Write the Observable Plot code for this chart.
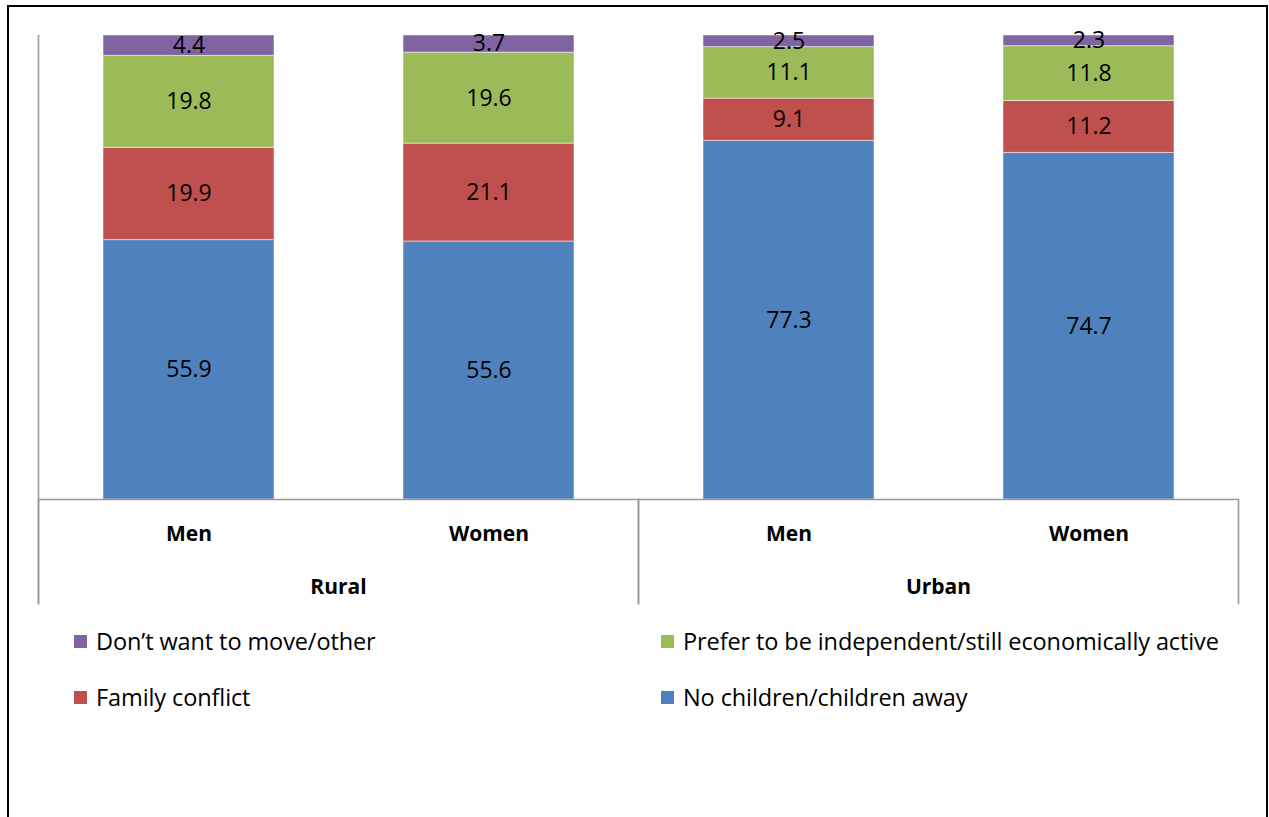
<!DOCTYPE html>
<html>
<head>
<meta charset="utf-8">
<script src="https://cdn.jsdelivr.net/npm/d3@7"></script>
<script src="https://cdn.jsdelivr.net/npm/@observablehq/plot@0.6"></script>
<style>
  html, body { margin: 0; padding: 0; background: #fff; overflow: hidden; }
  #wrap { position: relative; width: 1269px; height: 817px; font-family: "Open Sans", Lato, sans-serif; }
  #border { position: absolute; left: 7px; top: 5px; width: 1257px; height: 900px; border: 2px solid #000; box-sizing: content-box; }
  #chart { position: absolute; left: 0; top: 0; }
  #legend { position: absolute; left: 74px; top: 628px; display: grid; grid-template-columns: 587px 587px; row-gap: 30px; }
  .item { display: flex; align-items: center; font-size: 23.5px; color: #000; height: 26px; letter-spacing: -0.1px; }
  .sw { width: 13px; height: 13px; margin-right: 9px; flex: none; }
</style>
</head>
<body>
<div id="wrap">
  <div id="border"></div>
  <div id="chart"></div>
  <div id="legend"></div>
</div>
<script>
// ---- data ----
const areas = ["Rural", "Rural", "Urban", "Urban"];
const sexes = ["Men", "Women", "Men", "Women"];
const seriesNames = [
  "No children/children away",
  "Family conflict",
  "Prefer to be independent/still economically active",
  "Don’t want to move/other"
];
const seriesColors = ["#4F81BD", "#C0504D", "#9BBB59", "#8064A2"];
const noChildren = [55.9, 55.6, 77.3, 74.7];
const familyConflict = [19.9, 21.1, 9.1, 11.2];
const preferIndependent = [19.8, 19.6, 11.1, 11.8];
const dontWantToMove = [4.4, 3.7, 2.5, 2.3];
const legendOrder = [3, 2, 1, 0];

const seriesValues = [noChildren, familyConflict, preferIndependent, dontWantToMove];
const rows = [];
seriesNames.forEach((s, si) => {
  areas.forEach((a, i) => {
    rows.push({area: a, sex: sexes[i], series: s, value: seriesValues[si][i]});
  });
});

const font = "'Open Sans', Lato, sans-serif";
const chart = Plot.plot({
  width: 1269,
  height: 620,
  marginLeft: 38,
  marginRight: 31,
  marginTop: 35,
  marginBottom: 121,
  style: {fontFamily: font, background: "transparent", overflow: "visible"},
  fx: {domain: ["Rural", "Urban"], padding: 0, label: null},
  x: {domain: ["Men", "Women"], paddingInner: 0.43, paddingOuter: 0.215, label: null},
  y: {domain: [0, 100], axis: null},
  color: {domain: seriesNames, range: seriesColors},
  marks: [
    Plot.barY(rows, Plot.stackY({
      fx: "area", x: "sex", y: "value", fill: "series", z: "series", order: seriesNames,
      stroke: "#ffffff", strokeOpacity: 0.5, strokeWidth: 1
    })),
    Plot.text(rows, Plot.stackY({
      fx: "area", x: "sex", y: "value", z: "series", order: seriesNames,
      text: (d) => d.value.toFixed(1), fontSize: 23, fill: "#000"
    })),
    Plot.ruleY([0], {stroke: "#999", strokeWidth: 1.6}),
    Plot.frame({anchor: "left", facetAnchor: "left", stroke: "#999", strokeWidth: 1.6, insetBottom: -104}),
    Plot.frame({anchor: "left", stroke: "#999", strokeWidth: 1.6, insetTop: 464, insetBottom: -104}),
    Plot.frame({anchor: "right", stroke: "#999", strokeWidth: 1.6, insetTop: 464, insetBottom: -104}),
    Plot.axisX({anchor: "bottom", tickSize: 0, tickPadding: 27, fontSize: 21, fontWeight: "bold", fill: "#000", label: null}),
    Plot.axisFx({anchor: "bottom", tickSize: 0, tickPadding: 80, fontSize: 21, fontWeight: "bold", fill: "#000", label: null})
  ]
});
document.getElementById("chart").appendChild(chart);

const legend = document.getElementById("legend");
legendOrder.forEach((si) => {
  const item = document.createElement("div");
  item.className = "item";
  const sw = document.createElement("span");
  sw.className = "sw";
  sw.style.background = seriesColors[si];
  const t = document.createElement("span");
  t.textContent = seriesNames[si];
  item.appendChild(sw);
  item.appendChild(t);
  legend.appendChild(item);
});
</script>
</body>
</html>
